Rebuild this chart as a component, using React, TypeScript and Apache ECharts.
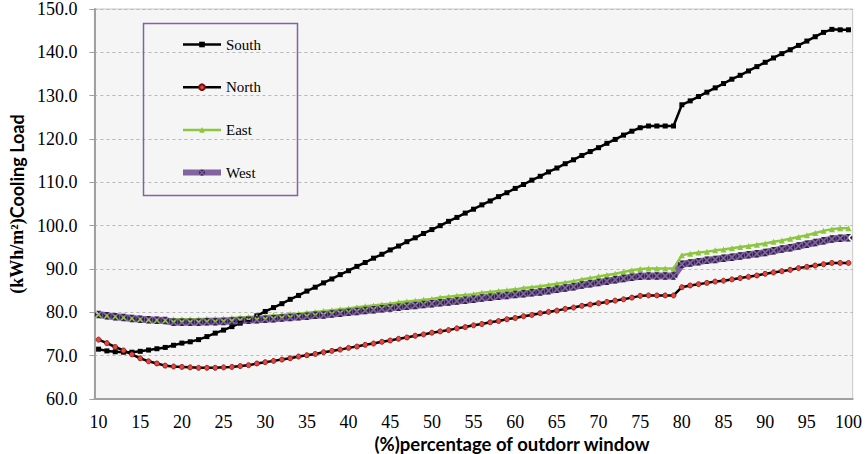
import React, { useEffect, useRef } from "react";
import * as echarts from "echarts";

const categories = [
  "10","11","12","13","14","15","16","17","18","19",
  "20","21","22","23","24","25","26","27","28","29",
  "30","31","32","33","34","35","36","37","38","39",
  "40","41","42","43","44","45","46","47","48","49",
  "50","51","52","53","54","55","56","57","58","59",
  "60","61","62","63","64","65","66","67","68","69",
  "70","71","72","73","74","75","76","77","78","79",
  "80","81","82","83","84","85","86","87","88","89",
  "90","91","92","93","94","95","96","97","98","99",
  "100",
];

const south = [
  71.5, 71.1, 70.9, 70.8, 70.8, 71.0, 71.3, 71.6, 71.9, 72.4,
  72.9, 73.2, 73.7, 74.4, 75.2, 75.9, 76.7, 77.5, 78.4, 79.2,
  80.2, 81.1, 82.0, 83.0, 83.9, 84.9, 85.8, 86.8, 87.7, 88.7,
  89.6, 90.6, 91.5, 92.5, 93.4, 94.4, 95.3, 96.3, 97.2, 98.2,
  99.1, 100.0, 101.0, 101.9, 102.9, 103.8, 104.8, 105.7, 106.7, 107.6,
  108.6, 109.5, 110.5, 111.4, 112.4, 113.3, 114.3, 115.2, 116.2, 117.1,
  118.0, 119.0, 119.9, 120.9, 121.8, 122.6, 123.0, 123.0, 123.0, 123.0,
  127.9, 128.8, 129.8, 130.8, 131.8, 132.8, 133.8, 134.7, 135.7, 136.7,
  137.7, 138.7, 139.7, 140.6, 141.6, 142.6, 143.6, 144.6, 145.3, 145.2,
  145.2,
];

const north = [
  73.7, 72.9, 72.0, 71.2, 70.3, 69.4, 68.7, 68.2, 67.7, 67.5,
  67.4, 67.3, 67.2, 67.2, 67.2, 67.3, 67.4, 67.6, 67.8, 68.2,
  68.5, 68.8, 69.1, 69.4, 69.8, 70.1, 70.4, 70.8, 71.1, 71.4,
  71.8, 72.1, 72.5, 72.8, 73.2, 73.5, 73.9, 74.2, 74.6, 74.9,
  75.3, 75.6, 75.9, 76.3, 76.6, 77.0, 77.3, 77.7, 78.0, 78.4,
  78.7, 79.1, 79.4, 79.8, 80.1, 80.4, 80.8, 81.1, 81.5, 81.8,
  82.1, 82.4, 82.7, 83.0, 83.4, 83.8, 83.9, 83.9, 83.9, 83.9,
  85.8, 86.2, 86.5, 86.8, 87.1, 87.3, 87.6, 87.9, 88.2, 88.5,
  88.9, 89.2, 89.5, 89.8, 90.2, 90.5, 90.8, 91.1, 91.4, 91.4,
  91.4,
];

const east = [
  79.5, 79.2, 79.0, 78.8, 78.6, 78.4, 78.3, 78.2, 78.1, 78.4,
  78.4, 78.4, 78.4, 78.5, 78.5, 78.6, 78.7, 78.8, 78.9, 79.0,
  79.1, 79.3, 79.4, 79.6, 79.7, 79.9, 80.1, 80.3, 80.5, 80.7,
  80.9, 81.2, 81.4, 81.6, 81.8, 82.0, 82.3, 82.5, 82.7, 82.9,
  83.1, 83.4, 83.6, 83.8, 84.0, 84.2, 84.5, 84.7, 84.9, 85.1,
  85.3, 85.6, 85.8, 86.0, 86.3, 86.6, 86.9, 87.2, 87.6, 87.9,
  88.3, 88.6, 88.9, 89.3, 89.7, 90.0, 90.1, 90.1, 90.1, 90.1,
  93.2, 93.5, 93.8, 94.0, 94.3, 94.5, 94.8, 95.1, 95.3, 95.6,
  95.9, 96.3, 96.6, 97.0, 97.4, 97.8, 98.3, 98.8, 99.2, 99.4,
  99.4,
];

const west = [
  79.5, 79.2, 79.0, 78.8, 78.6, 78.4, 78.3, 78.2, 78.1, 77.7,
  77.7, 77.7, 77.7, 77.8, 77.8, 77.9, 78.0, 78.1, 78.2, 78.3,
  78.4, 78.5, 78.7, 78.8, 79.0, 79.1, 79.3, 79.4, 79.6, 79.8,
  80.0, 80.2, 80.4, 80.6, 80.8, 81.0, 81.2, 81.4, 81.6, 81.8,
  82.0, 82.2, 82.4, 82.6, 82.8, 83.0, 83.3, 83.5, 83.7, 83.9,
  84.1, 84.3, 84.5, 84.7, 85.0, 85.3, 85.6, 85.9, 86.3, 86.6,
  86.9, 87.2, 87.5, 87.8, 88.1, 88.3, 88.4, 88.4, 88.4, 88.4,
  91.1, 91.4, 91.7, 92.0, 92.2, 92.5, 92.7, 93.0, 93.3, 93.5,
  93.8, 94.2, 94.6, 94.9, 95.3, 95.7, 96.1, 96.5, 96.9, 97.1,
  97.2,
];

const seriesNames = ["South", "North", "East", "West"];
const xTitle = "(%)percentage of outdorr window";

const SERIF = "'Liberation Serif', 'Times New Roman', serif";
const SANS = "Lato, 'Liberation Sans', sans-serif";

// square with an X cut out (four dark triangles)
const crossBox =
  "path://M1.6,0L8.4,0L5,3.4ZM1.6,10L8.4,10L5,6.6ZM0,1.6L0,8.4L3.4,5ZM10,1.6L10,8.4L6.6,5Z";

export default function App() {
  const ref = useRef<HTMLDivElement>(null);

  useEffect(() => {
    if (!ref.current) return;
    const chart = echarts.init(ref.current, null, { renderer: "svg" });
    chart.setOption({
      animation: false,
      backgroundColor: "#ffffff",
      grid: {
        left: 94,
        right: 9,
        top: 7,
        bottom: 55,
        show: true,
        backgroundColor: "#f5f5f5",
        borderColor: "#c8c8c8",
        borderWidth: 1,
      },
      legend: {
        orient: "vertical",
        left: 180,
        top: 37,
        padding: 0,
        itemWidth: 38,
        itemHeight: 7,
        itemGap: 27.7,
        data: [
          { name: seriesNames[0], lineStyle: { width: 2.5 } },
          { name: seriesNames[1], lineStyle: { width: 2.5 } },
          { name: seriesNames[2], lineStyle: { width: 2.5 } },
          { name: seriesNames[3], lineStyle: { width: 6 } },
        ],
        textStyle: { fontFamily: SERIF, fontSize: 15, color: "#000" },
      },
      graphic: [
        {
          type: "rect",
          z: 100,
          shape: { x: 143.5, y: 23.5, width: 154, height: 172 },
          style: { fill: "none", stroke: "#8064a2", lineWidth: 1.5 },
        },
        {
          type: "text",
          z: 100,
          x: 512,
          y: 444,
          style: {
            text: xTitle,
            fontFamily: SANS,
            fontWeight: "bold",
            fontSize: 18.5,
            fill: "#000",
            align: "center",
            verticalAlign: "middle",
          },
        },
      ],
      xAxis: {
        type: "category",
        data: categories,
        boundaryGap: true,
        axisLine: { show: true, lineStyle: { color: "#a0a0a0", width: 2 } },
        axisTick: { show: false },
        axisLabel: {
          interval: 4,
          margin: 14,
          fontFamily: SERIF,
          fontSize: 18,
          color: "#000",
        },
        splitLine: { show: false },
      },
      yAxis: {
        type: "value",
        min: 60,
        max: 150,
        interval: 10,
        name: "{s|(kWh/m²)}{c|Cooling Load}",
        nameLocation: "middle",
        nameRotate: 90,
        nameGap: 66,
        nameTextStyle: {
          rich: {
            s: {
              fontFamily: SERIF,
              fontWeight: "bold",
              fontSize: 18,
              color: "#000",
            },
            c: {
              fontFamily: SANS,
              fontWeight: "bold",
              fontSize: 18,
              color: "#000",
            },
          },
        },
        axisLine: { show: true, lineStyle: { color: "#a0a0a0", width: 2 } },
        axisTick: { show: true, length: 5, lineStyle: { color: "#a0a0a0" } },
        axisLabel: {
          margin: 17,
          fontFamily: SERIF,
          fontSize: 18,
          color: "#000",
          formatter: (v: number) => v.toFixed(1),
        },
        splitLine: {
          show: true,
          lineStyle: { color: "#b8b8b8", type: [3, 3], width: 1 },
        },
      },
      series: [
        {
          name: seriesNames[0],
          type: "line",
          data: south,
          symbol: "rect",
          symbolSize: 5,
          showAllSymbol: true,
          itemStyle: { color: "#000000" },
          lineStyle: { color: "#000000", width: 2.5 },
        },
        {
          name: seriesNames[1],
          type: "line",
          data: north,
          symbol: "circle",
          symbolSize: 5,
          showAllSymbol: true,
          itemStyle: { color: "#e8453c", borderColor: "#7a1010", borderWidth: 0.8 },
          lineStyle: { color: "#000000", width: 2.5 },
        },
        {
          name: seriesNames[2],
          type: "line",
          data: east,
          symbol: "triangle",
          symbolSize: 6,
          showAllSymbol: true,
          itemStyle: { color: "#8dc63f" },
          lineStyle: { color: "#8dc63f", width: 2.5 },
        },
        {
          name: seriesNames[3],
          type: "line",
          data: west,
          symbol: crossBox,
          symbolSize: 7.5,
          showAllSymbol: true,
          itemStyle: { color: "#33244a" },
          lineStyle: { color: "#8064a2", width: 7 },
        },
      ],
    });
    return () => chart.dispose();
  }, []);

  return (
    <div
      ref={ref}
      style={{ position: "fixed", left: 0, top: 0, width: 865, height: 454 }}
    />
  );
}
